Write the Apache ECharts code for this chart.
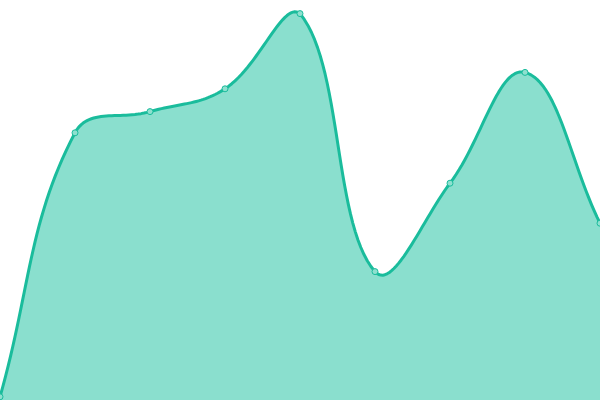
<!DOCTYPE html>
<html lang="en">
    <head>
        <meta charset="UTF-8" />
        <title>Area</title>
        <script src="https://cdn.jsdelivr.net/npm/echarts@6/dist/echarts.min.js"></script>
        <style>
            html, body { margin: 0; padding: 0; background: #fff; }
            #chart { width: 600px; height: 400px; }
        </style>
    </head>
    <body>
        <div id="chart"></div>
        <script>
            // values (axis 0..100, hidden)
            var categories = ['1', '2', '3', '4', '5', '6', '7', '8', '9'];
            var values = [0.8, 66.8, 72.1, 77.8, 96.6, 32.1, 54.2, 81.9, 44.2];

            var TENSION = 0.4;
            var lineColor = '#1abc9c';
            var fillColor = '#8adfce';

            // cardinal-type spline through the points (control points capped to the grid)
            function splinePoints(pts, area) {
                var out = [];
                var cps = pts.map(function (cur, i) {
                    var prev = pts[i - 1] || cur;
                    var next = pts[i + 1] || cur;
                    var d01 = Math.hypot(cur[0] - prev[0], cur[1] - prev[1]);
                    var d12 = Math.hypot(next[0] - cur[0], next[1] - cur[1]);
                    var s01 = d01 / (d01 + d12) || 0;
                    var s12 = d12 / (d01 + d12) || 0;
                    var fa = TENSION * s01, fb = TENSION * s12;
                    var cap = function (p) {
                        return [
                            Math.min(Math.max(p[0], area.x), area.x + area.width),
                            Math.min(Math.max(p[1], area.y), area.y + area.height)
                        ];
                    };
                    return {
                        prev: cap([cur[0] - fa * (next[0] - prev[0]), cur[1] - fa * (next[1] - prev[1])]),
                        next: cap([cur[0] + fb * (next[0] - prev[0]), cur[1] + fb * (next[1] - prev[1])])
                    };
                });
                out.push(pts[0]);
                for (var i = 0; i < pts.length - 1; i++) {
                    var p0 = pts[i], p1 = cps[i].next, p2 = cps[i + 1].prev, p3 = pts[i + 1];
                    for (var k = 1; k <= 30; k++) {
                        var t = k / 30, u = 1 - t;
                        out.push([
                            u * u * u * p0[0] + 3 * u * u * t * p1[0] + 3 * u * t * t * p2[0] + t * t * t * p3[0],
                            u * u * u * p0[1] + 3 * u * u * t * p1[1] + 3 * u * t * t * p2[1] + t * t * t * p3[1]
                        ]);
                    }
                }
                return out;
            }

            function renderArea(params, api) {
                if (params.dataIndex !== 0) return null;
                var pts = values.map(function (v, i) {
                    return api.coord([i, v]);
                });
                var curve = splinePoints(pts, params.coordSys);
                var base = api.coord([0, 0])[1];
                var poly = curve.slice();
                poly.push([curve[curve.length - 1][0], base]);
                poly.push([curve[0][0], base]);
                return {
                    type: 'group',
                    children: [
                        { type: 'polygon', shape: { points: poly }, style: { fill: fillColor } },
                        {
                            type: 'polyline',
                            shape: { points: curve },
                            style: { stroke: lineColor, lineWidth: 3, fill: null, lineJoin: 'round' }
                        }
                    ]
                };
            }

            var myChart = echarts.init(document.getElementById('chart'));
            var option = {
                animation: false,
                grid: { left: 0, right: 0, top: 0, bottom: 0 },
                xAxis: {
                    type: 'category',
                    data: categories,
                    boundaryGap: false,
                    show: false
                },
                yAxis: {
                    type: 'value',
                    min: 0,
                    max: 100,
                    show: false
                },
                series: [
                    {
                        type: 'custom',
                        renderItem: renderArea,
                        data: values.map(function (v, i) { return [i, v]; }),
                        clip: false,
                        z: 1
                    },
                    {
                        type: 'scatter',
                        data: values,
                        symbol: 'circle',
                        symbolSize: 6,
                        itemStyle: {
                            color: '#8ee0cf',
                            borderColor: lineColor,
                            borderWidth: 1,
                            opacity: 1
                        },
                        z: 3
                    }
                ]
            };
            myChart.setOption(option);
        </script>
    </body>
</html>
